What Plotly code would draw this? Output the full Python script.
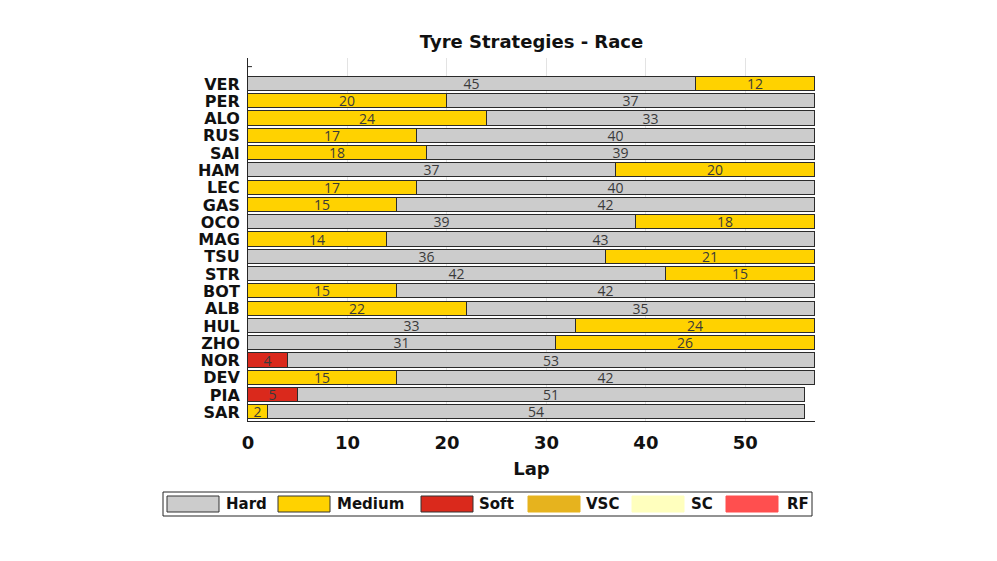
import plotly.graph_objects as go

# ---------------- data ----------------
drivers = ["VER", "PER", "ALO", "RUS", "SAI", "HAM", "LEC", "GAS", "OCO", "MAG",
           "TSU", "STR", "BOT", "ALB", "HUL", "ZHO", "NOR", "DEV", "PIA", "SAR"]
stint1_compound = ["Hard", "Medium", "Medium", "Medium", "Medium", "Hard", "Medium", "Medium", "Hard", "Medium",
                   "Hard", "Hard", "Medium", "Medium", "Hard", "Hard", "Soft", "Medium", "Soft", "Medium"]
stint1_laps = [45, 20, 24, 17, 18, 37, 17, 15, 39, 14, 36, 42, 15, 22, 33, 31, 4, 15, 5, 2]
stint2_compound = ["Medium", "Hard", "Hard", "Hard", "Hard", "Medium", "Hard", "Hard", "Medium", "Hard",
                   "Medium", "Medium", "Hard", "Hard", "Medium", "Medium", "Hard", "Hard", "Hard", "Hard"]
stint2_laps = [12, 37, 33, 40, 39, 20, 40, 42, 18, 43, 21, 15, 42, 35, 24, 26, 53, 42, 51, 54]

x_ticks = [0, 10, 20, 30, 40, 50]

legend_names = ["Hard", "Medium", "Soft", "VSC", "SC", "RF"]
legend_colors = ["#cccccc", "#ffd200", "#da291c", "#e6b31e", "#ffffbe", "#ff4f4f"]
legend_edges = ["#333333", "#333333", "#333333", "#e6b31e", "#ffffbe", "#ff4f4f"]
compound_color = dict(zip(legend_names, legend_colors))

# ---------------- figure ----------------
W, H = 997, 561
OFF = 8  # page body margin
ML, MR, MT, MB = 248, 182, 58, 140  # desired on-screen plot box
PW, PH = W - ML - MR, H - MT - MB

n = len(drivers)
ypos = [n - i for i in range(n)]  # VER at top

fig = go.Figure()
for laps, comps in [(stint1_laps, stint1_compound), (stint2_laps, stint2_compound)]:
    fig.add_trace(go.Bar(
        y=ypos, x=laps, orientation="h", width=0.82,
        marker=dict(color=[compound_color[c] for c in comps],
                    line=dict(color="#2b2b2b", width=1)),
        text=[str(v) for v in laps], textposition="inside",
        insidetextanchor="middle", textangle=0, constraintext="none",
        textfont=dict(family="Open Sans", size=14, color="#3a3a3a"),
        showlegend=False, hoverinfo="x+y",
    ))

def px_x(p):
    return (p - ML) / PW

def px_y(p):
    return (H - MB - p) / PH

shapes = []
annotations = []
# small top tick on the y axis
shapes.append(dict(type="line", xref="x", yref="y", x0=0, x1=0.4, y0=21, y1=21,
                   line=dict(color="#262626", width=1)))
# legend box
shapes.append(dict(type="rect", xref="paper", yref="paper",
                   x0=px_x(163), x1=px_x(812), y0=px_y(516), y1=px_y(492),
                   line=dict(color="#262626", width=1), fillcolor="white"))
sw_x = [167, 278, 421, 528, 632, 726]
tx_x = [224, 335, 477, 584, 689, 785]
for name, col, edge, sx, tx in zip(legend_names, legend_colors, legend_edges, sw_x, tx_x):
    shapes.append(dict(type="rect", xref="paper", yref="paper",
                       x0=px_x(sx), x1=px_x(sx + 52), y0=px_y(512), y1=px_y(496),
                       line=dict(color=edge, width=1), fillcolor=col))
    annotations.append(dict(xref="paper", yref="paper", x=px_x(tx), y=px_y(504),
                            text=f"<b>{name}</b>", showarrow=False, xanchor="left", yanchor="middle",
                            font=dict(family="DejaVu Sans", size=15, color="#111111")))

fig.update_layout(
    width=W, height=H,
    margin=dict(l=ML - OFF, r=MR + OFF, t=MT - OFF, b=MB + OFF, autoexpand=False),
    paper_bgcolor="white", plot_bgcolor="white",
    barmode="stack", bargap=0,
    title=dict(text="<b>Tyre Strategies - Race</b>", x=(ML - OFF + PW / 2) / W, xanchor="center",
               y=1 - (42 - OFF) / H, yanchor="middle",
               font=dict(family="DejaVu Sans", size=18, color="#111111")),
    shapes=shapes, annotations=annotations,
    showlegend=False,
)
fig.update_xaxes(
    range=[0, 57], tickvals=x_ticks, ticktext=[f"<b>{t}</b>" for t in x_ticks],
    showgrid=True, gridcolor="#e3e3e3", gridwidth=1, zeroline=False,
    showline=True, linecolor="#262626", linewidth=1,
    ticks="", ticklabelstandoff=5,
    tickfont=dict(family="DejaVu Sans", size=18, color="#111111"),
    title=dict(text="<b>Lap</b>", font=dict(family="DejaVu Sans", size=18, color="#111111"), standoff=10),
)
fig.update_yaxes(
    range=[0.5, 21.5], tickvals=ypos, ticktext=[f"<b>{d}</b>" for d in drivers],
    showgrid=False, zeroline=False,
    showline=True, linecolor="#262626", linewidth=1,
    ticks="", ticklabelstandoff=4,
    tickfont=dict(family="DejaVu Sans", size=16, color="#111111"),
)

fig.write_html("out.html")
